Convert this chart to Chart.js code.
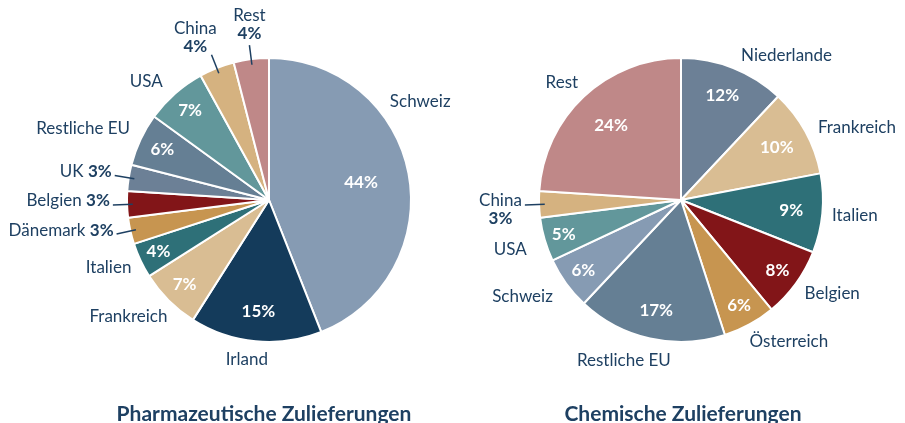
<!DOCTYPE html>
<html>
<head>
<meta charset="utf-8">
<script src="https://cdn.jsdelivr.net/npm/chart.js@4.4.1/dist/chart.umd.min.js"></script>
<style>
  body { margin: 0; width: 905px; height: 423px; background: #fff; position: relative; overflow: hidden; font-family: Lato, sans-serif; }
  .box { position: absolute; top: 0; height: 423px; }
  .title { position: absolute; top: 401px; font-weight: bold; font-size: 21px; line-height: 24px; color: #1e4062; text-align: center; white-space: nowrap; }
</style>
</head>
<body>
<div class="box" style="left:0;width:452px"><canvas id="pharma" width="452" height="423"></canvas></div>
<div class="box" style="left:452px;width:453px"><canvas id="chemie" width="453" height="423"></canvas></div>
<div class="title" style="left:0;width:528px">Pharmazeutische Zulieferungen</div>
<div class="title" style="left:466px;width:434px">Chemische Zulieferungen</div>

<script>
// DATA
const pharmaLabels = ['Schweiz', 'Irland', 'Frankreich', 'Italien', 'Dänemark', 'Belgien', 'UK', 'Restliche EU', 'USA', 'China', 'Rest'];
const pharmaValues = [44, 15, 7, 4, 3, 3, 3, 6, 7, 4, 4];
const pharmaColors = ['#869bb3', '#143b5b', '#d9bd93', '#2e7078', '#c79550', '#821518', '#6c8096', '#657f94', '#62979b', '#d5b280', '#bf8888'];

const chemieLabels = ['Niederlande', 'Frankreich', 'Italien', 'Belgien', 'Österreich', 'Restliche EU', 'Schweiz', 'USA', 'China', 'Rest'];
const chemieValues = [12, 10, 9, 8, 6, 17, 6, 5, 3, 24];
const chemieColors = ['#6c8096', '#d9bd93', '#2e7078', '#821518', '#c79550', '#657f94', '#869bb3', '#62979b', '#d5b280', '#bf8888'];

// LABEL LAYOUT
// style: 'in' = percent inside, name outside | 'inline' = "Name 3%" with leader
//        'stack' = name over percent with leader | 'below' = name with leader, percent underneath
// pos: [angle shift in degrees, distance in radii, align]
const pharmaStyle = ['in', 'in', 'in', 'in', 'inline', 'inline', 'inline', 'in', 'in', 'stack', 'stack'];
const pharmaPos = [[-28.5, 1.1, 'left'], [2.5, 1.135, 'center'], [-4, 1.09, 'right'], [-1, 1.08, 'right'], null, null, null,
                   [2, 1.1, 'right'], [-0.5, 1.12, 'right'], [-4, 1.2, 'center'], [0.5, 1.18, 'center']];
const pharmaInner = [0.66, 0.79, 0.84, 0.86, null, null, null, 0.83, 0.84, null, null];

const chemieStyle = ['in', 'in', 'in', 'in', 'in', 'in', 'in', 'in', 'below', 'in'];
const chemiePos = [[1, 1.1, 'left'], [1, 1.09, 'left'], [0.6, 1.07, 'left'], [1, 1.09, 'left'], [3, 1.11, 'left'],
                   [7, 1.2, 'center'], [-1, 1.13, 'right'], [-1.5, 1.14, 'right'], null, [2, 1.1, 'right']];
const chemieInner = [0.79, 0.77, 0.78, 0.84, 0.85, 0.8, 0.85, 0.86, null, 0.72];

const TEXT = '#1e4062';
const FONT = 'Lato, sans-serif';

// draws names, percents and leader lines around the pie
const sliceLabels = {
  id: 'sliceLabels',
  afterDatasetsDraw(chart, args, opts) {
    const ctx = chart.ctx;
    const meta = chart.getDatasetMeta(0);
    const labels = chart.data.labels;
    const values = chart.data.datasets[0].data;
    ctx.save();
    ctx.textBaseline = 'middle';
    meta.data.forEach((arc, i) => {
      const p = arc.getProps(['x', 'y', 'startAngle', 'endAngle', 'outerRadius']);
      const r = p.outerRadius;
      const mid = (p.startAngle + p.endAngle) / 2;
      const at = (ang, f) => ({ x: p.x + Math.cos(ang) * r * f, y: p.y + Math.sin(ang) * r * f });
      const pct = values[i] + '%';
      const style = opts.style[i];
      const regular = '17px ' + FONT;
      const bold = 'bold 17px ' + FONT;

      const leader = () => {
        const a = at(mid, 1.1), b = at(mid, 0.96);
        ctx.strokeStyle = TEXT;
        ctx.lineWidth = 1.5;
        ctx.beginPath();
        ctx.moveTo(a.x, a.y);
        ctx.lineTo(b.x, b.y);
        ctx.stroke();
        return a;
      };

      if (style === 'in') {
        const q = at(mid, opts.inner[i]);
        ctx.fillStyle = '#fff';
        ctx.font = bold;
        ctx.textAlign = 'center';
        ctx.fillText(pct, q.x, q.y);

        const pos = opts.pos[i];
        const t = at(mid + pos[0] * Math.PI / 180, pos[1]);
        ctx.fillStyle = TEXT;
        ctx.font = regular;
        ctx.textAlign = pos[2];
        ctx.fillText(labels[i], t.x, t.y);
      } else if (style === 'inline') {
        const a = leader();
        const endX = a.x - 3, y = a.y - 4;
        ctx.fillStyle = TEXT;
        ctx.textAlign = 'right';
        ctx.font = bold;
        const pw = ctx.measureText(pct).width;
        ctx.fillText(pct, endX, y);
        ctx.font = regular;
        ctx.fillText(labels[i] + ' ', endX - pw, y);
      } else if (style === 'stack') {
        leader();
        const pos = opts.pos[i];
        const t = at(mid + pos[0] * Math.PI / 180, pos[1]);
        ctx.fillStyle = TEXT;
        ctx.textAlign = 'center';
        ctx.font = bold;
        ctx.fillText(pct, t.x, t.y);
        ctx.font = regular;
        ctx.fillText(labels[i], t.x, t.y - 18);
      } else if (style === 'below') {
        const a = leader();
        const endX = a.x - 3, y = a.y - 4;
        ctx.fillStyle = TEXT;
        ctx.font = regular;
        ctx.textAlign = 'right';
        const nw = ctx.measureText(labels[i]).width;
        ctx.fillText(labels[i], endX, y);
        ctx.font = bold;
        ctx.textAlign = 'center';
        ctx.fillText(pct, endX - nw / 2, y + 18);
      }
    });
    ctx.restore();
  }
};

function makePie(id, labels, values, colors, padding, style, pos, inner) {
  return new Chart(document.getElementById(id), {
    type: 'pie',
    data: {
      labels: labels,
      datasets: [{
        data: values,
        backgroundColor: colors,
        borderColor: '#ffffff',
        borderWidth: 2
      }]
    },
    options: {
      responsive: false,
      animation: false,
      layout: { padding: padding },
      plugins: {
        legend: { display: false },
        tooltip: { enabled: false },
        sliceLabels: { style: style, pos: pos, inner: inner }
      }
    },
    plugins: [sliceLabels]
  });
}

makePie('pharma', pharmaLabels, pharmaValues, pharmaColors,
  { left: 126, right: 40, top: 57, bottom: 80 }, pharmaStyle, pharmaPos, pharmaInner);
makePie('chemie', chemieLabels, chemieValues, chemieColors,
  { left: 86, right: 81, top: 57, bottom: 80 }, chemieStyle, chemiePos, chemieInner);
</script>
</body>
</html>
